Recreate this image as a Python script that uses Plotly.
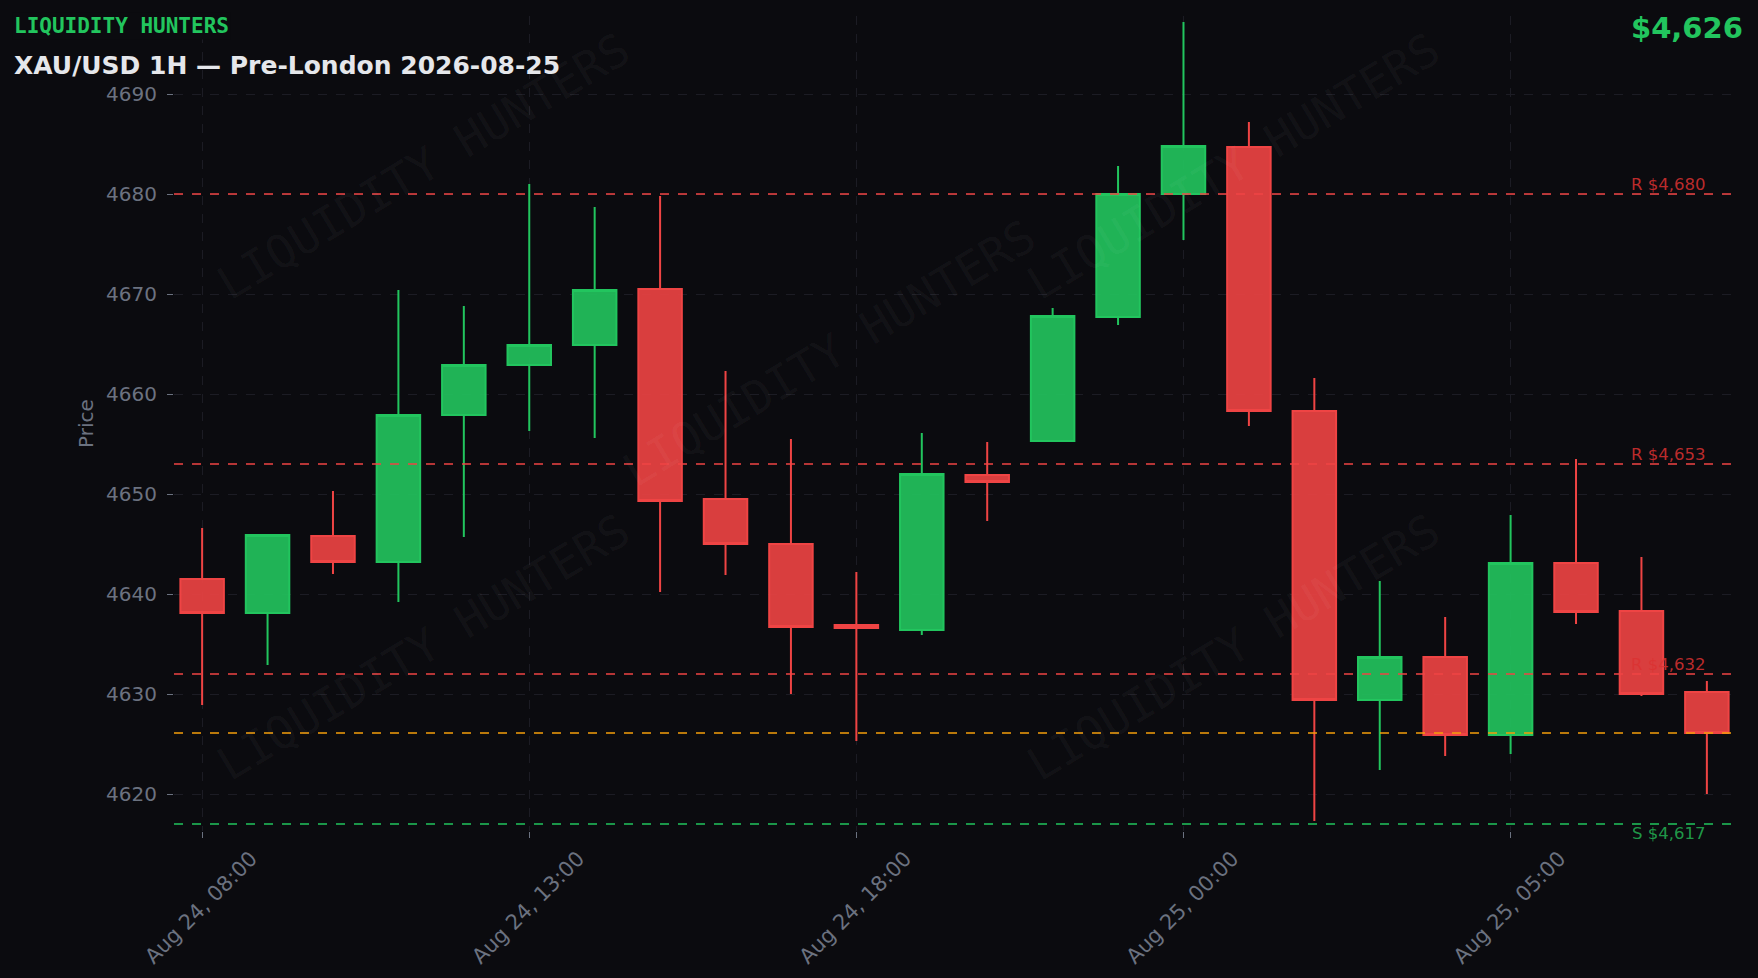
import plotly.graph_objects as go
from datetime import datetime

# ---- data ----
times = [datetime(2026, 8, 24, h) for h in range(8, 23)] + [datetime(2026, 8, 25, h) for h in range(0, 9)]
opens  = [4641.5, 4638.1, 4645.8, 4643.2, 4657.9, 4662.9, 4664.9, 4670.5, 4649.5, 4645.0, 4636.9, 4636.4,
          4651.9, 4655.3, 4667.7, 4680.0, 4684.7, 4658.3, 4629.4, 4633.7, 4625.9, 4643.1, 4638.3, 4630.2]
highs  = [4646.6, 4646.0, 4650.3, 4670.4, 4668.8, 4681.0, 4678.7, 4679.8, 4662.3, 4655.5, 4642.2, 4656.1,
          4655.2, 4668.6, 4682.8, 4697.2, 4687.2, 4661.6, 4641.3, 4637.7, 4647.9, 4653.5, 4643.7, 4631.3]
lows   = [4628.9, 4632.9, 4642.0, 4639.2, 4645.7, 4656.3, 4655.6, 4640.2, 4641.9, 4630.0, 4625.3, 4635.9,
          4647.3, 4655.2, 4666.9, 4675.4, 4656.8, 4617.3, 4622.4, 4623.8, 4624.0, 4637.0, 4629.8, 4620.0]
closes = [4638.1, 4645.9, 4643.2, 4657.9, 4662.9, 4664.9, 4670.4, 4649.3, 4645.0, 4636.7, 4636.6, 4652.0,
          4651.2, 4667.8, 4680.0, 4684.8, 4658.3, 4629.4, 4633.7, 4625.9, 4643.1, 4638.2, 4630.0, 4626.1]
labels = [t.strftime("%b %d, %H:%M") for t in times]

resistances = [4680, 4653, 4632]
supports = [4617]
current_price = closes[-1]

BG = "#0b0b0f"
GREEN = "#22c55e"
RED = "#ef4444"
ORANGE = "#f59e0b"
GRAY = "#6b7280"
GRID = "#1c1c24"
FONT = "DejaVu Sans"

fig = go.Figure()
fig.add_trace(go.Candlestick(
    x=labels, open=opens, high=highs, low=lows, close=closes,
    increasing=dict(line=dict(color=GREEN, width=2), fillcolor="rgba(34,197,94,0.9)"),
    decreasing=dict(line=dict(color=RED, width=2), fillcolor="rgba(239,68,68,0.9)"),
    showlegend=False,
))

shapes = []
annotations = []
for r in resistances:
    shapes.append(dict(type="line", xref="paper", x0=0, x1=1, yref="y", y0=r, y1=r,
                       line=dict(color=RED, width=1.6, dash="dash"), layer="above"))
    annotations.append(dict(x=labels[-1], y=r, xref="x", yref="y", text=f"R ${r:,}", showarrow=False,
                            xanchor="right", yanchor="bottom", yshift=-2,
                            font=dict(family=FONT, size=16.5, color="rgba(220,50,50,0.85)")))
for s in supports:
    shapes.append(dict(type="line", xref="paper", x0=0, x1=1, yref="y", y0=s, y1=s,
                       line=dict(color=GREEN, width=1.6, dash="dash"), layer="above"))
    annotations.append(dict(x=labels[-1], y=s, xref="x", yref="y", text=f"S ${s:,}", showarrow=False,
                            xanchor="right", yanchor="top", yshift=2,
                            font=dict(family=FONT, size=16.5, color="rgba(34,170,80,0.9)")))
shapes.append(dict(type="line", xref="paper", x0=0, x1=1, yref="y", y0=current_price, y1=current_price,
                   line=dict(color=ORANGE, width=1.6, dash="dash"), layer="above"))

# watermarks
for wx, wy in [(0.16, 0.816), (0.42, 0.586), (0.679, 0.816), (0.16, 0.226), (0.679, 0.226)]:
    annotations.append(dict(x=wx, y=wy, xref="paper", yref="paper", text="LIQUIDITY HUNTERS", showarrow=False,
                            textangle=-31, font=dict(family="DejaVu Sans Mono", size=46, color="rgba(255,255,255,0.045)"),
                            xanchor="center", yanchor="middle"))

annotations.append(dict(x=-0.1035, y=0.9876, xref="paper", yref="paper", text="<b>LIQUIDITY HUNTERS</b>",
                        showarrow=False, xanchor="left", yanchor="middle", bgcolor=BG,
                        font=dict(family="DejaVu Sans Mono", size=21, color=GREEN)))
annotations.append(dict(x=-0.1035, y=0.9394, xref="paper", yref="paper", text="<b>XAU/USD 1H — Pre-London 2026-08-25</b>",
                        showarrow=False, xanchor="left", yanchor="middle",
                        font=dict(family=FONT, size=25, color="#e5e7eb")))
annotations.append(dict(x=1.0062, y=0.9852, xref="paper", yref="paper", text=f"<b>${current_price:,.0f}</b>",
                        showarrow=False, xanchor="right", yanchor="middle",
                        font=dict(family=FONT, size=29, color=GREEN)))

fig.update_layout(
    width=1758, height=978,
    paper_bgcolor=BG, plot_bgcolor=BG,
    margin=dict(l=174, r=23, t=16, b=147, autoexpand=False),
    font=dict(family=FONT, color=GRAY, size=20),
    boxgap=0.05, boxgroupgap=0.3,
    shapes=shapes, annotations=annotations,
    xaxis=dict(type="category", range=[-0.43, 23.43], rangeslider=dict(visible=False), automargin=False,
               tickmode="linear", tick0=0, dtick=5, tickangle=-45, ticklabelshift=49,
               showgrid=True, gridcolor=GRID, griddash="dash", gridwidth=1,
               ticks="outside", ticklen=6, tickcolor=GRAY, showline=False, zeroline=False,
               tickfont=dict(family=FONT, size=21, color=GRAY)),
    yaxis=dict(range=[4616.3, 4697.8], dtick=10, showgrid=True, gridcolor=GRID, griddash="dash", gridwidth=1,
               automargin=False,
               ticks="outside", ticklen=6, tickcolor=GRAY, showline=False, zeroline=False,
               ticklabelstandoff=6,
               tickfont=dict(family=FONT, size=20, color=GRAY),
               title=dict(text="Price", font=dict(family=FONT, size=20, color=GRAY), standoff=7)),
)

fig.write_html("out.html", config={"displayModeBar": False},
               post_script="document.body.style.margin='0';document.body.style.background='#0b0b0f';")
